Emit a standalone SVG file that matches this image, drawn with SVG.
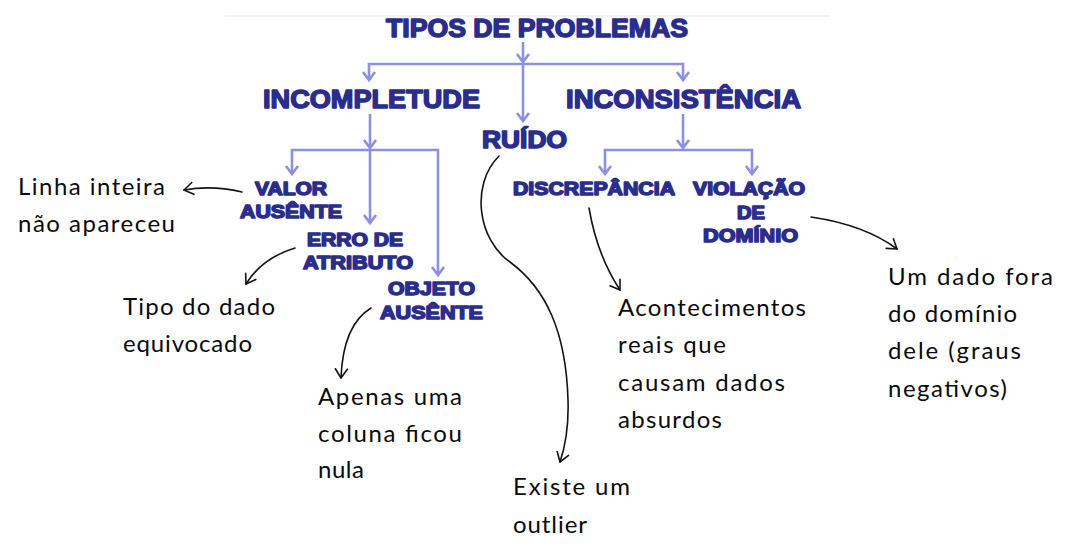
<svg xmlns="http://www.w3.org/2000/svg" width="1073" height="552" viewBox="0 0 1073 552">
<style>
.b{font-family:"Liberation Sans",Arial,sans-serif;font-weight:bold;fill:#2a2d8c;stroke:#2a2d8c;stroke-width:1.5;stroke-linejoin:round;text-anchor:start}
.h{font-family:Lato,"Open Sans",sans-serif;font-weight:400;font-size:24px;fill:#0a0a0a}
.c{fill:none;stroke:#8d90e0;stroke-width:2.6}
.k{fill:none;stroke:#141414;stroke-width:1.6;stroke-linecap:round}
</style>
<defs>
<marker id="ba" markerUnits="userSpaceOnUse" markerWidth="20" markerHeight="20" viewBox="-10 -10 20 20" refX="0" refY="0" orient="auto">
<path d="M-8,-6 L0,0 L-8,6" fill="none" stroke="#8d90e0" stroke-width="2.6"/>
</marker>
<marker id="ka" markerUnits="userSpaceOnUse" markerWidth="24" markerHeight="24" viewBox="-12 -12 24 24" refX="0" refY="0" orient="auto">
<path d="M-9,-6 L0,0 L-9,6" fill="none" stroke="#141414" stroke-width="1.6" stroke-linecap="round" stroke-linejoin="round"/>
</marker>
</defs>
<rect width="1073" height="552" fill="#fff"/>
<line x1="225" y1="16" x2="830" y2="16" stroke="#efefef" stroke-width="1.5"/>
<g id="connectors">
<path class="c" d="M523,42 V62" marker-end="url(#ba)"/>
<path class="c" d="M523,62 V121" marker-end="url(#ba)"/>
<path class="c" d="M523,64 H369 V80" marker-end="url(#ba)"/>
<path class="c" d="M523,64 H683 V80" marker-end="url(#ba)"/>
<path class="c" d="M370,114 V148" marker-end="url(#ba)"/>
<path class="c" d="M370,150 H292 V174" marker-end="url(#ba)"/>
<path class="c" d="M370,150 V223" marker-end="url(#ba)"/>
<path class="c" d="M370,150 H438 V275" marker-end="url(#ba)"/>
<path class="c" d="M683,114 V148" marker-end="url(#ba)"/>
<path class="c" d="M683,150 H605 V174" marker-end="url(#ba)"/>
<path class="c" d="M683,150 H752 V174" marker-end="url(#ba)"/>
<path class="k" d="M242,192 Q212,185 184,190" marker-end="url(#ka)"/>
<path class="k" d="M295,248 Q262,258 246,284" marker-end="url(#ka)"/>
<path class="k" d="M371,308 Q343,325 341,378" marker-end="url(#ka)"/>
<path class="k" d="M499,156 C470,185 478,240 510,262 C545,288 566,330 568,400 C569,430 564,450 560,462" marker-end="url(#ka)"/>
<path class="k" d="M589,208 Q597,255 620,290" marker-end="url(#ka)"/>
<path class="k" d="M811,217 Q865,225 897,249" marker-end="url(#ka)"/>
</g>
<g id="title"><text class="b" x="386" y="37" font-size="25" textLength="302" lengthAdjust="spacingAndGlyphs">TIPOS DE PROBLEMAS</text></g>
<g id="incompletude"><text class="b" x="263" y="108" font-size="26" textLength="217" lengthAdjust="spacingAndGlyphs">INCOMPLETUDE</text></g>
<g id="inconsistencia"><text class="b" x="566" y="108" font-size="26" textLength="235" lengthAdjust="spacingAndGlyphs">INCONSISTÊNCIA</text></g>
<g id="ruido"><text class="b" x="482" y="148" font-size="23" textLength="85" lengthAdjust="spacingAndGlyphs">RUÍDO</text></g>
<g id="valor-ausente">
<text class="b" x="255" y="195" font-size="18" textLength="72" lengthAdjust="spacingAndGlyphs">VALOR</text>
<text class="b" x="240" y="218" font-size="18" textLength="102" lengthAdjust="spacingAndGlyphs">AUSÊNTE</text>
</g>
<g id="erro-atributo">
<text class="b" x="307" y="246" font-size="18" textLength="96" lengthAdjust="spacingAndGlyphs">ERRO DE</text>
<text class="b" x="303" y="269" font-size="18" textLength="110" lengthAdjust="spacingAndGlyphs">ATRIBUTO</text>
</g>
<g id="objeto-ausente">
<text class="b" x="388" y="295" font-size="18" textLength="87" lengthAdjust="spacingAndGlyphs">OBJETO</text>
<text class="b" x="380" y="319" font-size="18" textLength="103" lengthAdjust="spacingAndGlyphs">AUSÊNTE</text>
</g>
<g id="discrepancia"><text class="b" x="513" y="195" font-size="18" textLength="162" lengthAdjust="spacingAndGlyphs">DISCREPÂNCIA</text></g>
<g id="violacao-dominio">
<text class="b" x="693" y="195" font-size="18" textLength="112" lengthAdjust="spacingAndGlyphs">VIOLAÇÃO</text>
<text class="b" x="737" y="219" font-size="18" textLength="28" lengthAdjust="spacingAndGlyphs">DE</text>
<text class="b" x="703" y="242" font-size="18" textLength="95" lengthAdjust="spacingAndGlyphs">DOMÍNIO</text>
</g>
<g id="note-linha">
<text class="h" x="18" y="195" textLength="147" lengthAdjust="spacing">Linha inteira</text>
<text class="h" x="18" y="232" textLength="157" lengthAdjust="spacing">não apareceu</text>
</g>
<g id="note-tipo">
<text class="h" x="123" y="315" textLength="152" lengthAdjust="spacing">Tipo do dado</text>
<text class="h" x="123" y="352" textLength="129" lengthAdjust="spacing">equivocado</text>
</g>
<g id="note-apenas">
<text class="h" x="318" y="405" textLength="144" lengthAdjust="spacing">Apenas uma</text>
<text class="h" x="318" y="442" textLength="144" lengthAdjust="spacing">coluna ficou</text>
<text class="h" x="318" y="478" textLength="46" lengthAdjust="spacing">nula</text>
</g>
<g id="note-existe">
<text class="h" x="513" y="495" textLength="117" lengthAdjust="spacing">Existe um</text>
<text class="h" x="513" y="533" textLength="74" lengthAdjust="spacing">outlier</text>
</g>
<g id="note-acontecimentos">
<text class="h" x="618" y="316" textLength="188" lengthAdjust="spacing">Acontecimentos</text>
<text class="h" x="618" y="353" textLength="108" lengthAdjust="spacing">reais que</text>
<text class="h" x="618" y="391" textLength="167" lengthAdjust="spacing">causam dados</text>
<text class="h" x="618" y="428" textLength="104" lengthAdjust="spacing">absurdos</text>
</g>
<g id="note-um-dado">
<text class="h" x="888" y="285" textLength="165" lengthAdjust="spacing">Um dado fora</text>
<text class="h" x="888" y="322" textLength="129" lengthAdjust="spacing">do domínio</text>
<text class="h" x="888" y="359" textLength="133" lengthAdjust="spacing">dele (graus</text>
<text class="h" x="888" y="397" textLength="119" lengthAdjust="spacing">negativos)</text>
</g>
</svg>
